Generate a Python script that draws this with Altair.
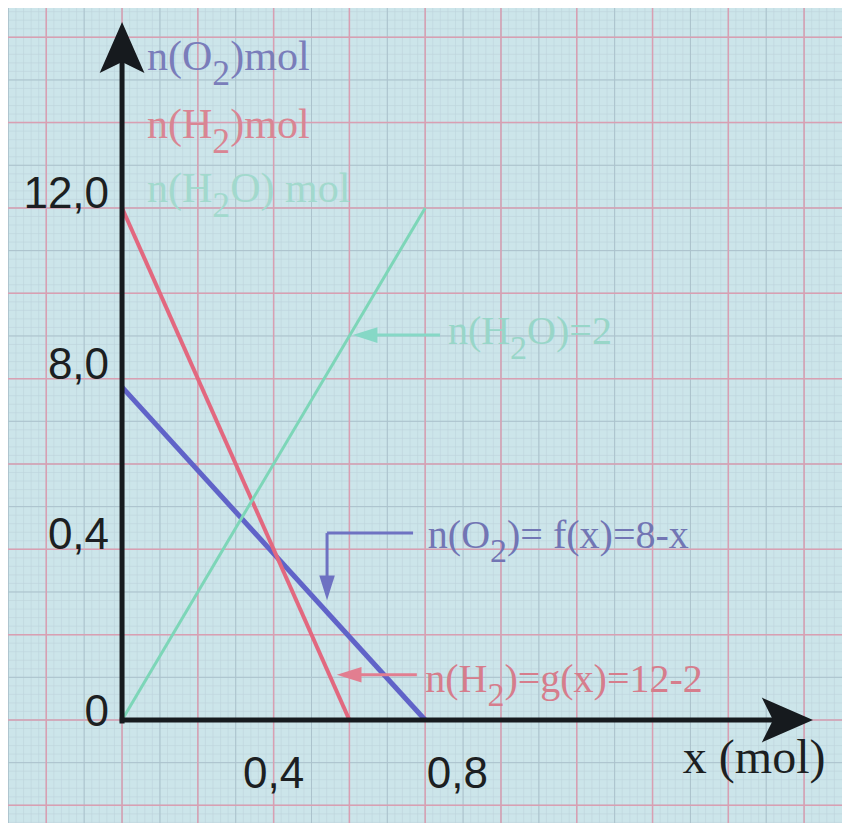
import altair as alt
import numpy as np
import pandas as pd

# ---------------- data ----------------
o2_x = [0.0, 0.8]
o2_y = [7.8, 0.0]
h2_x = [0.0, 0.6]
h2_y = [12.0, 0.0]
h2o_x = [0.0, 0.8]
h2o_y = [0.0, 12.0]
series_names = ["O2", "H2", "H2O"]
series_colors = ["#6063c8", "#e2687f", "#7dd6b8"]
series_widths = [5, 4, 3]

y_tick_values = [12.0, 8.0, 4.0, -0.15]
y_tick_labels = ["12,0", "8,0", "0,4", "0"]
x_tick_values = [0.4, 0.885]
x_tick_labels = ["0,4", "0,8"]

# labels: [before subscript, subscript, after subscript]
legend_parts = [["n(O", "2", ")mol"], ["n(H", "2", ")mol"], ["n(H", "2", "O) mol"]]
legend_x = [0.066, 0.066, 0.066]
legend_y = [15.23, 13.64, 12.14]
legend_colors = ["#7a7dba", "#d98593", "#a2d9cd"]

note_parts = [["n(H", "2", "O)=2"], ["n(O", "2", ")= f(x)=8-x"], ["n(H", "2", ")=g(x)=12-2"]]
note_x = [0.86, 0.807, 0.80]
note_y = [8.8, 4.03, 0.66]
note_colors = ["#98d6c8", "#7275b4", "#d67d8c"]

# ---------------- frame ----------------
W, H = 834, 815
X_DOM = [-0.301, 1.900]
Y_DOM = [-2.414, 16.686]
PX_X = W / (X_DOM[1] - X_DOM[0])
PX_Y = H / (Y_DOM[1] - Y_DOM[0])
xs = alt.Scale(domain=X_DOM, nice=False, zero=False)
ys = alt.Scale(domain=Y_DOM, nice=False, zero=False)


def X(f):
    return alt.X(f, type="quantitative", scale=xs, axis=None)


def Y(f):
    return alt.Y(f, type="quantitative", scale=ys, axis=None)


# graph paper grid (only lines inside the frame)
def vgrid(step, color, width):
    vals = np.round(np.arange(-0.4, 2.0 + 1e-9, step), 4)
    vals = vals[(vals > X_DOM[0]) & (vals < X_DOM[1])]
    return alt.Chart(pd.DataFrame({"gx": vals})).mark_rule(
        color=color, strokeWidth=width, clip=True).encode(x=X("gx"))


def hgrid(step, color, width):
    vals = np.round(np.arange(-4.0, 18.0 + 1e-9, step), 4)
    vals = vals[(vals > Y_DOM[0]) & (vals < Y_DOM[1])]
    return alt.Chart(pd.DataFrame({"gy": vals})).mark_rule(
        color=color, strokeWidth=width, clip=True).encode(y=Y("gy"))


grid = (
    vgrid(0.02, "#bdd4dc", 0.6) + hgrid(0.2, "#bdd4dc", 0.6)
    + vgrid(0.1, "#abc2cc", 1.0) + hgrid(1.0, "#abc2cc", 1.0)
    + vgrid(0.2, "#d99fb2", 1.5) + hgrid(2.0, "#d99fb2", 1.5)
)

# series lines
rows = []
for name, xv, yv in zip(series_names, [o2_x, h2_x, h2o_x], [o2_y, h2_y, h2o_y]):
    for i, (a, b) in enumerate(zip(xv, yv)):
        rows.append({"s": name, "x": a, "y": b, "o": i})
lines_df = pd.DataFrame(rows)
line_layers = []
for name, col, w in zip(series_names, series_colors, series_widths):
    line_layers.append(
        alt.Chart(lines_df[lines_df.s == name]).mark_line(color=col, strokeWidth=w)
        .encode(x=X("x"), y=Y("y"), order="o:Q")
    )

# axes with arrowheads
axes_df = pd.DataFrame({"x": [0.0, -0.006], "y": [-0.08, 0.0],
                        "x2": [0.0, 1.72], "y2": [15.6, 0.0]})
axes = alt.Chart(axes_df).mark_rule(color="#161a1e", strokeWidth=5).encode(
    x=X("x"), y=Y("y"), x2="x2", y2="y2")
dart = "M0,-1L0.7,0.6L0,0.25L-0.7,0.6Z"
heads_df = pd.DataFrame({"x": [0.0, 1.739], "y": [15.61, 0.0], "a": [0, 90]})
heads = alt.Chart(heads_df).mark_point(shape=dart, filled=True, size=4096,
                                       color="#161a1e", opacity=1).encode(
    x=X("x"), y=Y("y"), angle=alt.Angle("a:Q", scale=None))

# annotation arrows
arr_df = pd.DataFrame({
    "x": [0.839, 0.768, 0.541, 0.778],
    "y": [9.02, 4.38, 4.38, 1.06],
    "x2": [0.63, 0.541, 0.541, 0.585],
    "y2": [9.02, 4.38, 3.1, 1.06],
    "c": ["#86d8c6", "#6e72c2", "#6e72c2", "#e27e90"],
})
arr = alt.Chart(arr_df).mark_rule(strokeWidth=3).encode(
    x=X("x"), y=Y("y"), x2="x2", y2="y2", color=alt.Color("c:N", scale=None))
tri = "M0,-1L0.55,0.75L-0.55,0.75Z"
arrh_df = pd.DataFrame({"x": [0.646, 0.541, 0.604], "y": [9.02, 3.14, 1.06],
                        "a": [270, 180, 270],
                        "c": ["#86d8c6", "#6e72c2", "#e27e90"]})
arrh = alt.Chart(arrh_df).mark_point(shape=tri, filled=True, size=800, opacity=1).encode(
    x=X("x"), y=Y("y"), angle=alt.Angle("a:Q", scale=None),
    color=alt.Color("c:N", scale=None))

# texts with large, lowered subscripts (Liberation Serif = Times metrics)
TIMES = {"n": 0.5, "(": 0.333, ")": 0.333, "O": 0.722, "H": 0.722, "2": 0.5}
SUB_SCALE = 0.85
SUB_DROP = 0.36


def text_rows(parts_list, xs0, ys0, colors, size):
    out = []
    for parts, x0, y0, c in zip(parts_list, xs0, ys0, colors):
        pre, sub, post = parts
        w_pre = sum(TIMES[ch] for ch in pre) * size
        w_sub = sum(TIMES[ch] for ch in sub) * size * SUB_SCALE
        out.append({"t": pre, "x": x0, "y": y0, "c": c, "s": size})
        out.append({"t": sub, "x": x0 + w_pre / PX_X,
                    "y": y0 - SUB_DROP * size / PX_Y, "c": c, "s": size * SUB_SCALE})
        out.append({"t": post, "x": x0 + (w_pre + w_sub) / PX_X, "y": y0, "c": c, "s": size})
    return out


txt_df = pd.DataFrame(
    text_rows(legend_parts, legend_x, legend_y, legend_colors, 42)
    + text_rows(note_parts, note_x, note_y, note_colors, 40)
)
texts = alt.Chart(txt_df).mark_text(font="Liberation Serif", align="left",
                                    baseline="alphabetic").encode(
    x=X("x"), y=Y("y"), text="t:N",
    color=alt.Color("c:N", scale=None), size=alt.Size("s:Q", scale=None))

ytl_df = pd.DataFrame({"t": y_tick_labels, "y": y_tick_values, "x": [0.0] * 4})
ytl = alt.Chart(ytl_df).mark_text(font="Liberation Sans", fontSize=44, align="right",
                                  baseline="alphabetic", dx=-13, color="#1c1f22").encode(
    x=X("x"), y=Y("y"), text="t:N")

xtl_df = pd.DataFrame({"t": x_tick_labels, "x": x_tick_values, "y": [-1.6] * 2})
xtl = alt.Chart(xtl_df).mark_text(font="Liberation Sans", fontSize=44, align="center",
                                  baseline="alphabetic", color="#1c1f22").encode(
    x=X("x"), y=Y("y"), text="t:N")

xt_df = pd.DataFrame({"t": ["x (mol)"], "x": [1.48], "y": [-1.25]})
xt = alt.Chart(xt_df).mark_text(font="Liberation Serif", fontSize=48, align="left",
                                baseline="alphabetic", color="#1c1f22").encode(
    x=X("x"), y=Y("y"), text="t:N")

chart = alt.layer(
    grid, texts, *line_layers, arr, arrh, axes, heads, ytl, xtl, xt
).properties(
    width=W, height=H, padding=0,
    autosize=alt.AutoSizeParams(type="none"),
    background="#cce5ea",
).configure_view(stroke=None, fill="#cce5ea")

chart.save("out.html", embed_options={"renderer": "svg", "actions": False})
